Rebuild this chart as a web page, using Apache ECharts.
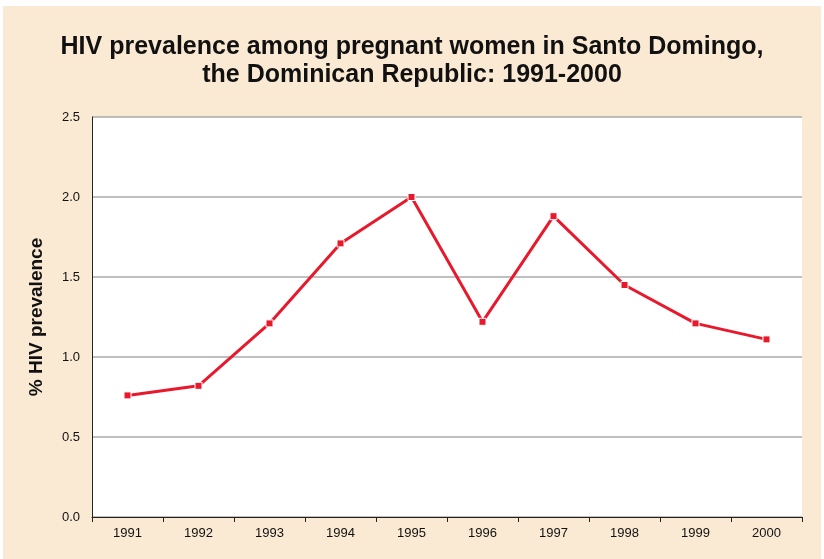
<!DOCTYPE html>
<html>
<head>
<meta charset="utf-8">
<script src="https://cdn.jsdelivr.net/npm/echarts@6/dist/echarts.min.js"></script>
<style>
  html, body { margin: 0; padding: 0; background: #ffffff; }
  #main { position: absolute; left: 3px; top: 6px; width: 818px; height: 553px; background: #fbead3; }
</style>
</head>
<body>
<div id="main"></div>
<script>
// data
var years = ['1991', '1992', '1993', '1994', '1995', '1996', '1997', '1998', '1999', '2000'];
var prevalence = [0.76, 0.82, 1.21, 1.71, 2.0, 1.22, 1.88, 1.45, 1.21, 1.11];

var chart = echarts.init(document.getElementById('main'));

var option = {
  backgroundColor: '#fbead3',
  title: {
    text: 'HIV prevalence among pregnant women in Santo Domingo,\nthe Dominican Republic: 1991-2000',
    left: 'center',
    top: 22,
    textStyle: {
      fontFamily: 'Liberation Sans',
      fontSize: 25,
      fontWeight: 'bold',
      color: '#111',
      lineHeight: 28
    }
  },
  grid: {
    left: 89,
    right: 19,
    top: 111,
    bottom: 42,
    show: true,
    backgroundColor: '#ffffff',
    borderWidth: 0
  },
  xAxis: {
    type: 'category',
    data: years,
    boundaryGap: true,
    axisLine: { lineStyle: { color: '#222', width: 1 } },
    axisTick: { show: true, alignWithLabel: false, length: 5, lineStyle: { color: '#222' } },
    axisLabel: { color: '#111', fontFamily: 'Liberation Sans', fontSize: 13, margin: 10 },
    splitLine: { show: false }
  },
  yAxis: {
    type: 'value',
    min: 0,
    max: 2.5,
    interval: 0.5,
    name: '% HIV prevalence',
    nameLocation: 'middle',
    nameGap: 46,
    nameTextStyle: { fontFamily: 'Liberation Sans', fontSize: 19, fontWeight: 'bold', color: '#111' },
    axisLine: { show: true, lineStyle: { color: '#222', width: 1 } },
    axisTick: { show: false },
    axisLabel: {
      color: '#111',
      fontFamily: 'Liberation Sans',
      fontSize: 13,
      margin: 12,
      formatter: function (v) { return v.toFixed(1); }
    },
    splitLine: { show: true, lineStyle: { color: '#aaaaaa', width: 1.5 } }
  },
  series: [
    {
      name: 'HIV prevalence',
      type: 'line',
      data: prevalence,
      symbol: 'rect',
      symbolSize: 7,
      lineStyle: { color: '#e8192c', width: 3 },
      itemStyle: { color: '#e8192c', borderColor: '#ffffff', borderWidth: 1 },
      animation: false
    }
  ]
};

chart.setOption(option);
</script>
</body>
</html>
